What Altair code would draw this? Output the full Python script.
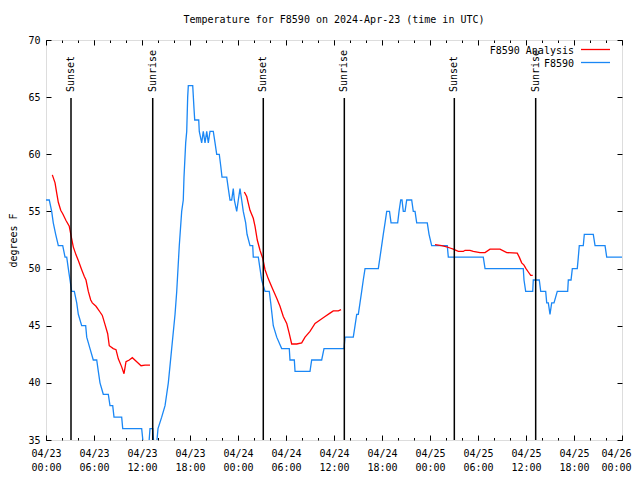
import altair as alt
import pandas as pd

# ---- data (hours since 2024-04-23 00:00 UTC) ----
obs_hours = [0.0, 0.41, 0.71, 0.91, 1.21, 1.54, 2.09, 2.38, 2.59, 2.79, 3.0, 3.21, 3.54, 3.84, 4.04, 4.46, 4.96,
             5.09, 5.5, 5.91, 6.34, 6.54, 6.75, 7.16, 7.79, 8.0, 8.34, 8.5, 9.46, 9.59, 11.96, 12.25, 12.79, 13.0,
             13.34, 13.54, 13.75, 14.0, 14.46, 14.88, 15.29, 15.71, 16.13, 16.34, 16.66, 16.96, 17.16, 17.25, 17.46,
             17.59, 17.71, 17.79, 18.34, 18.5, 18.59, 19.09, 19.16, 19.46, 19.66, 19.88, 20.09, 20.29, 20.5, 20.91,
             21.13, 21.34, 21.66, 21.84, 22.0, 22.59, 22.79, 23.0, 23.21, 23.41, 23.54, 23.84, 24.04, 24.25, 24.46,
             24.66, 24.96, 25.13, 25.5, 25.84, 25.91, 26.54, 26.75, 26.96, 27.38, 27.91, 28.09, 28.25, 28.41, 28.84,
             29.46, 30.41, 30.5, 31.04, 31.13, 33.0, 33.21, 34.46, 34.75, 37.25, 37.38, 38.41, 38.63, 38.84, 39.04,
             39.25, 39.46, 39.66, 39.88, 41.54, 41.75, 41.96, 42.16, 42.38, 42.59, 42.79, 42.94, 43.13, 43.96, 44.13,
             44.34, 44.5, 44.66, 44.88, 45.09, 45.71, 45.91, 46.13, 46.34, 47.66, 47.88, 48.21, 50.16, 50.29, 54.66,
             54.88, 59.66, 59.75, 59.96, 60.84, 60.91, 61.66, 61.84, 62.46, 62.59, 62.79, 63.0, 63.21, 63.5, 63.91,
             65.21, 65.29, 65.63, 65.79, 66.41, 66.54, 66.66, 67.16, 67.29, 68.41, 68.63, 69.88, 70.09, 72.0]
obs_temps = [56, 56, 55, 54, 53, 52, 52, 51, 51, 50, 49, 48, 48, 47, 46, 45, 45,
             44, 43, 42, 42, 41, 40, 39, 39, 38, 38, 37, 37, 36, 36, 34, 34, 36,
             36, 34, 34, 36, 37, 38, 40, 43, 46, 48, 52, 55, 56, 58, 61,
             62, 65, 66, 66, 64, 63, 63, 62, 61, 62, 61, 62, 61, 62, 62,
             61, 60, 60, 59, 58, 58, 57, 56, 56, 57, 56, 55, 56, 57, 56,
             55, 54, 53, 52, 52, 51, 51, 50, 49, 48, 48, 47, 46, 45, 44,
             43, 43, 42, 42, 41, 41, 42, 42, 43, 43, 44, 44, 45, 46, 46,
             47, 48, 49, 50, 50, 51, 52, 53, 54, 55, 55, 55, 54, 54, 55,
             56, 56, 55, 55, 56, 56, 55, 55, 54, 54, 53, 52, 52, 51, 51,
             50, 50, 49, 48, 48, 49, 49, 48, 48, 47, 47, 46, 47, 47, 48,
             48, 49, 49, 50, 50, 51, 52, 52, 53, 53, 52, 52, 51, 51]

ana1_hours = [0.79, 1.13, 1.34, 1.54, 1.84, 2.09, 2.5, 2.91, 3.21, 3.41, 3.75, 4.04, 4.46, 4.79, 5.0, 5.29, 5.59,
              5.79, 6.25, 6.75, 7.04, 7.38, 7.71, 7.91, 8.41, 8.75, 9.04, 9.46, 9.75, 10.0, 10.41, 10.79, 11.34,
              11.88, 12.38, 13.0]
ana1_temps = [58.2, 57.5, 56.6, 55.8, 55.1, 54.8, 54.2, 53.7, 52.6, 51.9, 51.2, 50.7, 49.9, 49.3, 49.0, 48.0, 47.25,
              47.0, 46.7, 46.2, 45.9, 45.1, 44.3, 43.25, 43.0, 42.9, 42.1, 41.4, 40.8, 41.85, 42.0, 42.2, 41.85,
              41.5, 41.55, 41.55]
ana2_hours = [24.79, 25.09, 25.29, 25.5, 25.91, 26.13, 26.41, 26.75, 27.09, 27.38, 27.79, 28.21, 28.84, 29.25,
              29.66, 30.09, 30.41, 30.71, 31.34, 31.96, 32.38, 33.0, 33.63, 34.25, 34.88, 35.5, 35.91, 36.54, 36.88]
ana2_temps = [56.7, 56.3, 55.7, 55.1, 54.4, 53.7, 52.5, 51.6, 50.9, 49.9, 49.1, 48.4, 47.4, 46.7,
              45.8, 45.2, 44.3, 43.4, 43.4, 43.5, 44.0, 44.5, 45.2, 45.5, 45.8, 46.1, 46.3, 46.3, 46.4]
ana3_hours = [48.63, 49.46, 50.09, 50.5, 50.91, 51.54, 52.16, 52.38, 53.0, 53.41, 54.25, 54.88, 55.5, 56.75,
              57.59, 58.91, 59.16, 59.46, 59.75, 60.0, 60.29, 60.59, 60.84]
ana3_temps = [52.1, 52.0, 51.9, 51.8, 51.7, 51.5, 51.5, 51.6, 51.6, 51.5, 51.4, 51.4, 51.7, 51.7,
              51.4, 51.35, 51.0, 50.5, 50.3, 50.0, 49.7, 49.4, 49.4]

sun_hours = [3.125, 13.34, 27.16, 37.29, 51.04, 61.21]
sun_labels = ["Sunset", "Sunrise", "Sunset", "Sunrise", "Sunset", "Sunrise"]

series_names = ["F8590 Analysis", "F8590"]
series_colors = ["#ff0000", "#1a87f5"]

major_ticks = list(range(0, 73, 6))
minor_ticks = list(range(0, 73, 2))
y_ticks = [35, 40, 45, 50, 55, 60, 65, 70]

FONT = "DejaVu Sans Mono"
W, H = 576, 400

obs = pd.DataFrame({"h": obs_hours, "t": obs_temps})
ana = pd.concat([
    pd.DataFrame({"h": ana1_hours, "t": ana1_temps, "seg": 1}),
    pd.DataFrame({"h": ana2_hours, "t": ana2_temps, "seg": 2}),
    pd.DataFrame({"h": ana3_hours, "t": ana3_temps, "seg": 3}),
])
sun = pd.DataFrame({"h": sun_hours, "label": sun_labels})

xscale = alt.Scale(domain=[0, 72], nice=False, zero=False)
yscale = alt.Scale(domain=[35, 70], nice=False, zero=False)

label_expr = ("['04/' + (23 + floor(datum.value / 24)), "
              "((datum.value % 24) < 10 ? '0' : '') + (datum.value % 24) + ':00']")

x_main = alt.X("h:Q", scale=xscale, title=None,
               axis=alt.Axis(values=major_ticks, labelExpr=label_expr, orient="bottom",
                             ticks=False, tickSize=0, domain=False, labelPadding=8,
                             labelLineHeight=14, labelFont=FONT, labelFontSize=10,
                             labelColor="black", labelFlush=False, labelOverlap=False,
                             labelOffset={"condition": {"test": "datum.value >= 72", "value": -6}, "value": 0},
                             grid=True, gridColor="black", gridOpacity=1, gridWidth=1,
                             gridDash=[5, H - 10, 5, H]))
y_main = alt.Y("t:Q", scale=yscale, title="degrees F",
               axis=alt.Axis(values=y_ticks, orient="left", ticks=False, tickSize=0, domain=False,
                             labelPadding=6, labelFont=FONT, labelFontSize=10, labelColor="black",
                             titleFont=FONT, titleFontSize=10, titleFontWeight="normal",
                             titleColor="black", titlePadding=9, labelFlush=False,
                             grid=True, gridColor="black", gridOpacity=1, gridWidth=1,
                             gridDash=[5, W - 10, 5, W]))

obs_layer = alt.Chart(obs).mark_line(color=series_colors[1], strokeWidth=1.3, clip=True).encode(
    x=x_main, y=y_main)

x_minor = alt.X("h:Q", scale=xscale, title=None,
                axis=alt.Axis(values=minor_ticks, orient="top", labels=False, ticks=False, tickSize=0,
                              domain=False, grid=True, gridColor="black", gridOpacity=1, gridWidth=1,
                              gridDash=[2.5, H - 5, 2.5, H]))
ana_layer = alt.Chart(ana).mark_line(color=series_colors[0], strokeWidth=1.3, clip=True).encode(
    x=x_minor, y=alt.Y("t:Q", scale=yscale, axis=None), detail="seg:N")

sun_rules = alt.Chart(sun).mark_rule(color="black", strokeWidth=1.5).encode(
    x=alt.X("h:Q", scale=xscale, axis=None), y=alt.value(58), y2=alt.value(H))
sun_text = alt.Chart(sun).mark_text(angle=270, align="left", baseline="middle", font=FONT,
                                    fontSize=10, color="black").encode(
    x=alt.X("h:Q", scale=xscale, axis=None), y=alt.value(52), text="label:N")

leg_layers = []
for i, (name, col) in enumerate(zip(series_names, series_colors)):
    d = pd.DataFrame({"name": [name]})
    yy = 10.5 + 13 * i
    leg_layers.append(alt.Chart(d).mark_text(align="right", baseline="middle", font=FONT, fontSize=10,
                                             color="black").encode(
        text="name:N", x=alt.value(528), y=alt.value(yy)))
    leg_layers.append(alt.Chart(d).mark_rule(color=col, strokeWidth=1.3).encode(
        x=alt.value(535), x2=alt.value(564), y=alt.value(yy - 1)))

chart = alt.layer(obs_layer, ana_layer, sun_rules, sun_text, *leg_layers).resolve_axis(
    x="independent", y="independent"
).properties(
    width=W, height=H,
    title=alt.TitleParams("Temperature for F8590 on 2024-Apr-23 (time in UTC)", font=FONT, fontSize=10,
                          fontWeight="normal", color="black", anchor="middle", frame="group", offset=10),
    autosize=alt.AutoSizeParams(type="none"),
    padding={"left": 38, "top": 32, "right": 10, "bottom": 32},
).configure_view(stroke="black", strokeWidth=1).configure(background="white")

chart.save("out.html", embed_options={"renderer": "svg", "actions": False})
